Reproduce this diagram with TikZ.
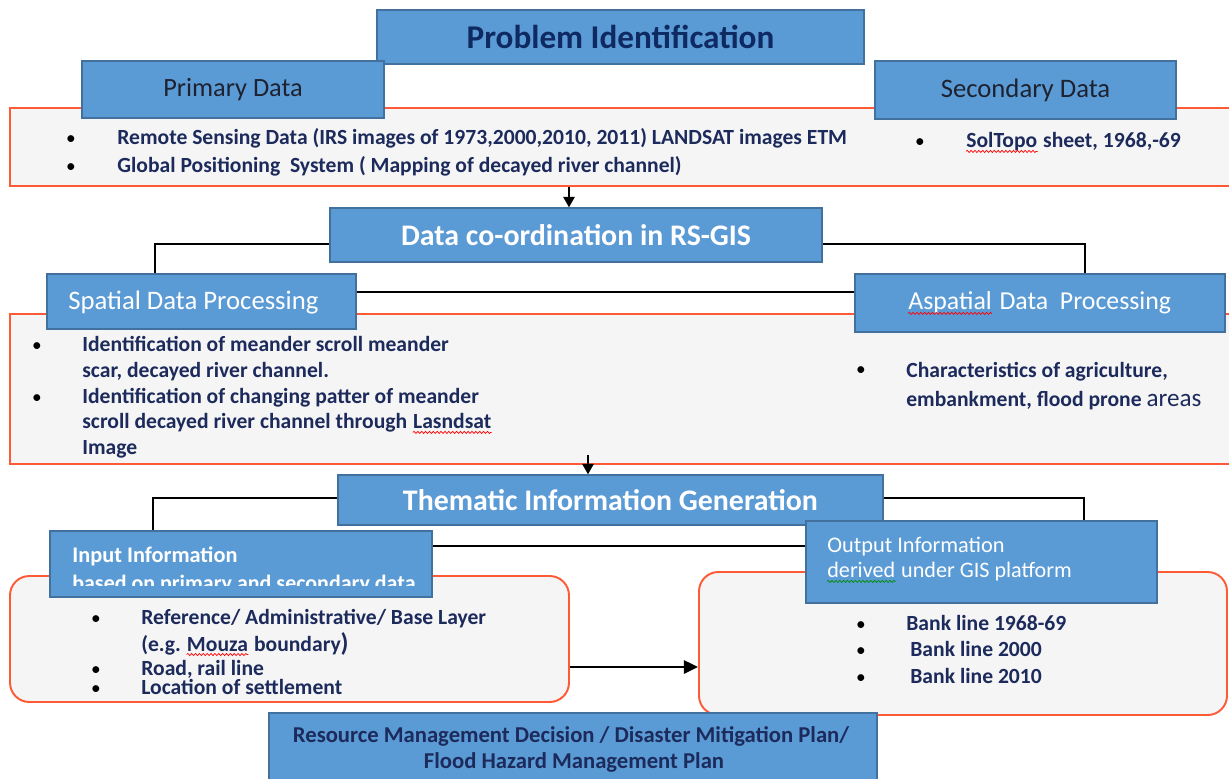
\documentclass[tikz,border=0pt]{standalone}
\usepackage{fontspec}
\setmainfont{Carlito}
\usetikzlibrary{arrows.meta,calc,decorations.pathmorphing}
\definecolor{bfill}{HTML}{5B9BD5}
\definecolor{bline}{HTML}{41719C}
\definecolor{orng}{HTML}{FF5A36}
\definecolor{gfill}{HTML}{F5F5F5}
\definecolor{navy}{HTML}{1C2A5C}
\definecolor{titlenavy}{HTML}{0F2A63}
\definecolor{dark}{HTML}{1E2230}
\def\u{0.02cm}
\tikzset{
  bluebox/.style={draw=bline, fill=bfill, line width=0.8pt, inner sep=0pt},
  obox/.style={draw=orng, fill=gfill, line width=1.1pt, inner sep=0pt},
  conn/.style={draw=black, line width=1.1pt},
  arr/.style={conn, -{Triangle[length=6pt,width=6.5pt]}},
  bigarr/.style={conn, -{Triangle[length=8pt,width=7.5pt]}},
  tx/.style={anchor=base west, inner sep=0pt, font=\fontsize{12.3}{14}\selectfont\bfseries, text=navy},
  bu/.style={anchor=base, inner sep=0pt, font=\fontsize{11}{13}\selectfont, text=black},
  bigw/.style={font=\fontsize{17}{19}\selectfont\bfseries, text=white},
  medd/.style={font=\fontsize{15}{17}\selectfont, text=dark},
  smw/.style={anchor=base west, inner sep=0pt, text=white},
  squig/.style={draw=red, line width=0.4pt, decorate, decoration={snake, amplitude=0.6pt, segment length=2.2pt}},
}
\begin{document}
\begin{tikzpicture}[x=0.02cm,y=-0.02cm]
\useasboundingbox (0,0) rectangle (1229,778);
% orange content boxes
\node[obox, minimum width=1225*\u, minimum height=78*\u] (ob1) at (622.5,147) {};
\node[obox, minimum width=1225*\u, minimum height=150*\u] (ob2) at (622.5,389) {};
\node[obox, rounded corners=11pt, minimum width=559*\u, minimum height=126*\u] (rl) at (289.5,639) {};
\node[obox, rounded corners=11pt, minimum width=528*\u, minimum height=143*\u] (rr) at (963,643.5) {};
% blue boxes
\node[bluebox, minimum width=487*\u, minimum height=54*\u, font=\fontsize{18.9}{21}\selectfont\bfseries, text=titlenavy] (pi) at (620.5,37) {Problem Identification};
\node[bluebox, medd, minimum width=302*\u, minimum height=57*\u] (pd) at (233,89.5) {Primary Data};
\node[bluebox, medd, minimum width=301*\u, minimum height=58*\u, font=\fontsize{15.2}{17}\selectfont] (sd) at (1025.5,90) {Secondary Data};
\node[bluebox, bigw, minimum width=492*\u, minimum height=54*\u] (dc) at (576,235) {Data co-ordination in RS-GIS};
\node[bluebox, minimum width=309*\u, minimum height=55*\u] (sp) at (201.5,301.5) {};
\node[bluebox, minimum width=370*\u, minimum height=58*\u] (ap) at (1040,303) {};
\node[bluebox, bigw, minimum width=545*\u, minimum height=50*\u] (th) at (610.5,500) {Thematic Information Generation};
\node[bluebox, minimum width=382*\u, minimum height=66*\u] (in) at (241,564) {};
\node[bluebox, minimum width=351*\u, minimum height=82*\u] (out) at (981.5,562) {};
\node[bluebox, minimum width=608*\u, minimum height=87*\u] (rm) at (573,756.5) {};
% connectors
\draw[arr] (ob1.south -| 569,0) -- (dc.north -| 569,0);
\draw[conn] (dc.west |- 0,244) -| (sp.north -| 155,0);
\draw[conn] (dc.east |- 0,244) -| (ap.north -| 1085,0);
\draw[conn] (sp.east |- 0,292) -- (ap.west |- 0,292);
\coordinate (a2s) at ($(ob2.south -| 588,0)+(0,-10)$);
\draw[arr] (a2s) -- (th.north -| 588,0);
\draw[conn] (th.west |- 0,498) -| (in.north -| 153,0);
\draw[conn] (th.east |- 0,498) -| (out.north -| 1084,0);
\draw[conn] (in.east |- 0,546) -- (out.west |- 0,546);
\draw[bigarr] (rl.east |- 0,667) -- (rr.west |- 0,667);
% spatial / aspatial labels
\node[smw, font=\fontsize{15.2}{17}\selectfont] (spt) at (68,309) {Spatial Data Processing};
\node[smw, font=\fontsize{14.7}{17}\selectfont] (apw) at (908,309) {Aspatial};
\node[smw, font=\fontsize{14.7}{17}\selectfont] (apt) at ([xshift=4pt]apw.base east) {Data\ \ Processing};
\draw[squig] ([yshift=-2.5pt]apw.base west) -- ([yshift=-2.5pt]apw.base east);
% box 1 text
\node[bu] (b1a) at (71,144) {\textbullet};
\node[tx] (t1a) at (117,144) {Remote Sensing Data (IRS images of 1973,2000,2010, 2011) LANDSAT images ETM};
\node[bu] (b1b) at (71,172) {\textbullet};
\node[tx] (t1b) at (117,172) {Global Positioning\ \ System ( Mapping of decayed river channel)};
\node[bu] (b1c) at (920,147) {\textbullet};
\node[tx] (sw1) at (966,147) {SolTopo};
\node[tx] (t1c) at ([xshift=3pt]sw1.base east) {sheet, 1968,-69};
\draw[squig] ([yshift=-2.5pt]sw1.base west) -- ([yshift=-2.5pt]sw1.base east);
% box 2 text
\node[bu] (b2a) at (37,351) {\textbullet};
\node[tx] (t2a) at (82,351) {Identification of meander scroll meander};
\node[tx] (t2b) at (82,377) {scar, decayed river channel.};
\node[bu] (b2c) at (37,403) {\textbullet};
\node[tx] (t2c) at (82,403) {Identification of changing patter of meander};
\node[tx] (t2d) at (82,428) {scroll decayed river channel through};
\node[tx] (sw2) at ([xshift=3pt]t2d.base east) {Lasndsat};
\draw[squig] ([yshift=-2.5pt]sw2.base west) -- ([yshift=-2.5pt]sw2.base east);
\node[tx] (t2e) at (82,454) {Image};
\node[bu] (b2f) at (861,375) {\textbullet};
\node[tx] (t2f) at (906,377) {Characteristics of agriculture,};
\node[tx] (t2g) at (906,406) {embankment, flood prone {\mdseries\fontsize{14.3}{16}\selectfont areas}};
% input/output text
\node[smw, font=\fontsize{12.7}{14}\selectfont\bfseries] (it1) at (72,562) {Input Information};
\begin{scope}
\clip (in.north west) rectangle (in.east |- 0,585);
\node[smw, font=\fontsize{12.5}{14}\selectfont\bfseries] (it2) at (72,590) {based on primary and secondary data};
\end{scope}
\node[smw, font=\fontsize{12.7}{14}\selectfont] (ot1) at (827,552) {Output Information};
\node[smw, font=\fontsize{12.6}{14}\selectfont] (sw5) at (827,577) {derived};
\node[smw, font=\fontsize{12.6}{14}\selectfont] (ot2) at ([xshift=3pt]sw5.base east) {under GIS platform};
\draw[squig, draw=green!55!black] ([yshift=-2.5pt]sw5.base west) -- ([yshift=-2.5pt]sw5.base east);
% rounded box texts
\node[bu] (b3a) at (96,624) {\textbullet};
\node[tx] (t3a) at (141,624) {Reference/ Administrative/ Base Layer};
\node[tx] (t3b) at (141,651) {(e.g.};
\node[tx] (sw4) at ([xshift=3pt]t3b.base east) {Mouza};
\node[tx] (t3bb) at ([xshift=3pt]sw4.base east) {boundary{\fontsize{14.5}{15}\selectfont)}};
\draw[squig] ([yshift=-2pt]sw4.base west) -- ([yshift=-2pt]sw4.base east);
\node[bu] (b3c) at (96,675) {\textbullet};
\node[tx] (t3c) at (141,675) {Road, rail line};
\node[bu] (b3d) at (96,694) {\textbullet};
\node[tx] (t3d) at (141,694) {Location of settlement};
\node[bu] (b4a) at (861,630) {\textbullet};
\node[tx] (t4a) at (906,630) {Bank line 1968-69};
\node[bu] (b4b) at (861,656) {\textbullet};
\node[tx] (t4b) at (910,656) {Bank line 2000};
\node[bu] (b4c) at (861,683) {\textbullet};
\node[tx] (t4c) at (910,683) {Bank line 2010};
% resource text
\node[tx, anchor=base, font=\fontsize{12.9}{15}\selectfont\bfseries] (rt1) at (571,742) {Resource Management Decision / Disaster Mitigation Plan/};
\node[tx, anchor=base, font=\fontsize{12.9}{15}\selectfont\bfseries] (rt2) at (574,768) {Flood Hazard Management Plan};
\end{tikzpicture}
\end{document}
